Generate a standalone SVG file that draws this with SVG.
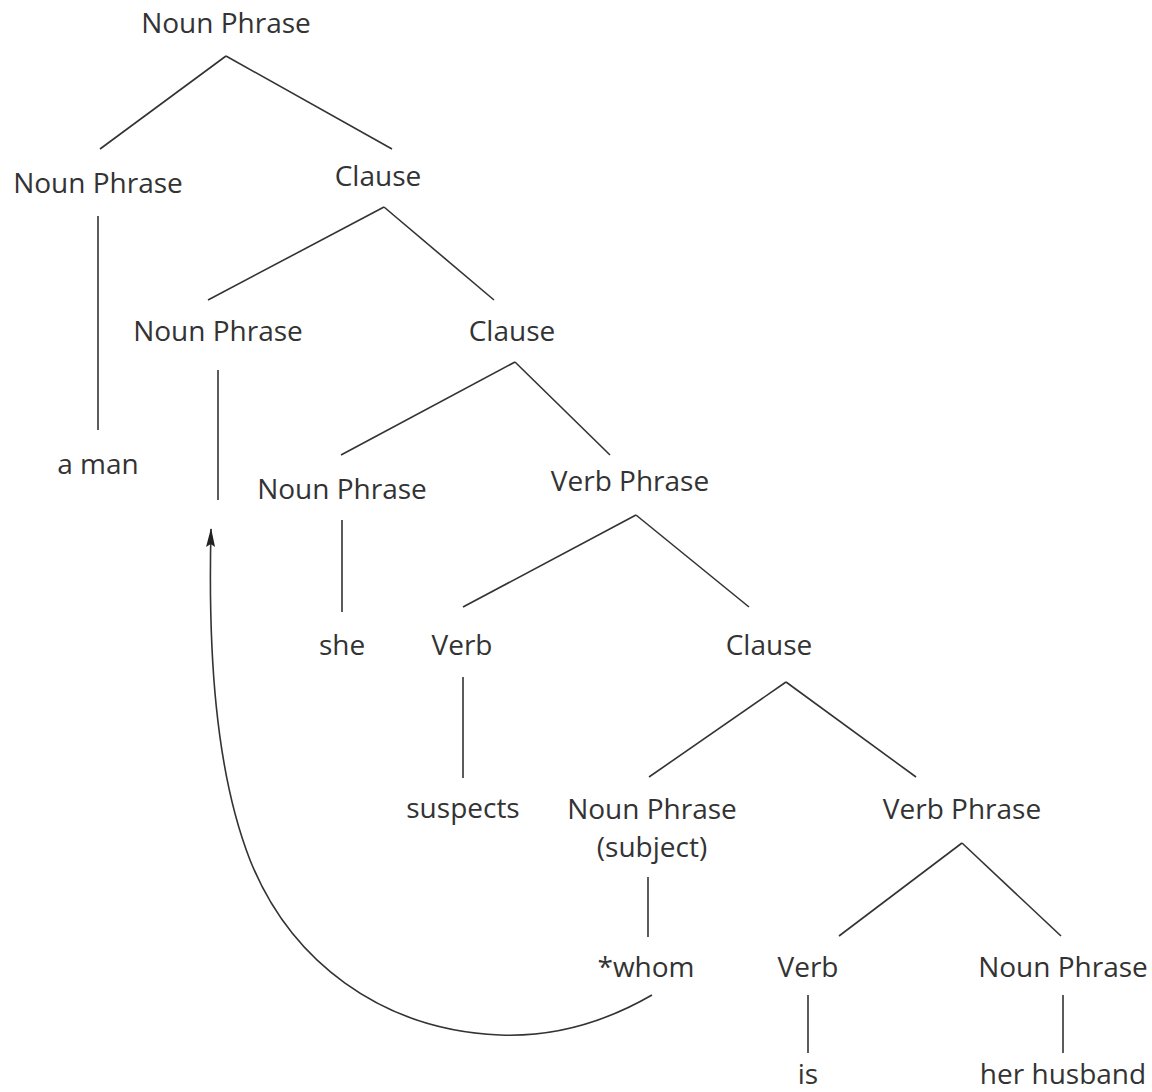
<svg xmlns="http://www.w3.org/2000/svg" width="1152" height="1092" viewBox="0 0 1152 1092">
<defs>
<style>
text{font-family:"Open Sans","Liberation Sans",sans-serif;font-size:28px;fill:#333;text-anchor:middle}
.c line,.c path{stroke:#333;stroke-width:1.6;fill:none}
</style>
<marker id="ah" markerWidth="20" markerHeight="10" viewBox="0 0 20 10" refX="19" refY="5" orient="auto" markerUnits="userSpaceOnUse">
<path d="M20,5 L1,0.5 L4,5 L1,9.5 Z" fill="#222"/>
</marker>
</defs>
<rect width="1152" height="1092" fill="#fff"/>
<g class="c" id="connectors">
<line x1="226" y1="56" x2="100" y2="149"/>
<line x1="226" y1="56" x2="392" y2="149"/>
<line x1="98" y1="216" x2="98" y2="430"/>
<line x1="384" y1="207" x2="208" y2="300"/>
<line x1="384" y1="207" x2="494" y2="300"/>
<line x1="218" y1="370" x2="218" y2="500"/>
<line x1="515" y1="362" x2="341" y2="455"/>
<line x1="515" y1="362" x2="610" y2="455"/>
<line x1="342" y1="520" x2="342" y2="612"/>
<line x1="636" y1="515" x2="463" y2="607"/>
<line x1="636" y1="515" x2="749" y2="607"/>
<line x1="463" y1="677" x2="463" y2="778"/>
<line x1="786" y1="682" x2="649" y2="777"/>
<line x1="786" y1="682" x2="916" y2="777"/>
<line x1="648" y1="877" x2="648" y2="937"/>
<line x1="962" y1="843" x2="839" y2="936"/>
<line x1="962" y1="843" x2="1061" y2="936"/>
<line x1="808" y1="995" x2="808" y2="1053"/>
<line x1="1063" y1="995" x2="1063" y2="1053"/>
<path d="M652,995 C600,1025 550,1037 500,1035 C380,1030 290,960 250,860 C215,770 208,650 211,529" marker-end="url(#ah)"/>
</g>
<g id="n_root"><text x="226" y="33">Noun Phrase</text></g>
<g id="n_np1"><text x="98" y="193">Noun Phrase</text></g>
<g id="n_clause1"><text x="378" y="186">Clause</text></g>
<g id="n_aman"><text x="98" y="474">a man</text></g>
<g id="n_np2"><text x="218" y="341">Noun Phrase</text></g>
<g id="n_clause2"><text x="512" y="341">Clause</text></g>
<g id="n_np3"><text x="342" y="499">Noun Phrase</text></g>
<g id="n_vp1"><text x="630" y="491">Verb Phrase</text></g>
<g id="n_she"><text x="342" y="655">she</text></g>
<g id="n_verb1"><text x="462" y="655">Verb</text></g>
<g id="n_clause3"><text x="769" y="655">Clause</text></g>
<g id="n_suspects"><text x="463" y="818">suspects</text></g>
<g id="n_npsubj"><text x="652" y="819">Noun Phrase</text><text x="652" y="857">(subject)</text></g>
<g id="n_vp2"><text x="962" y="819">Verb Phrase</text></g>
<g id="n_whom"><text x="646" y="977">*whom</text></g>
<g id="n_verb2"><text x="808" y="977">Verb</text></g>
<g id="n_np4"><text x="1063" y="977">Noun Phrase</text></g>
<g id="n_is"><text x="808" y="1084">is</text></g>
<g id="n_husband"><text x="1063" y="1084">her husband</text></g>
</svg>
